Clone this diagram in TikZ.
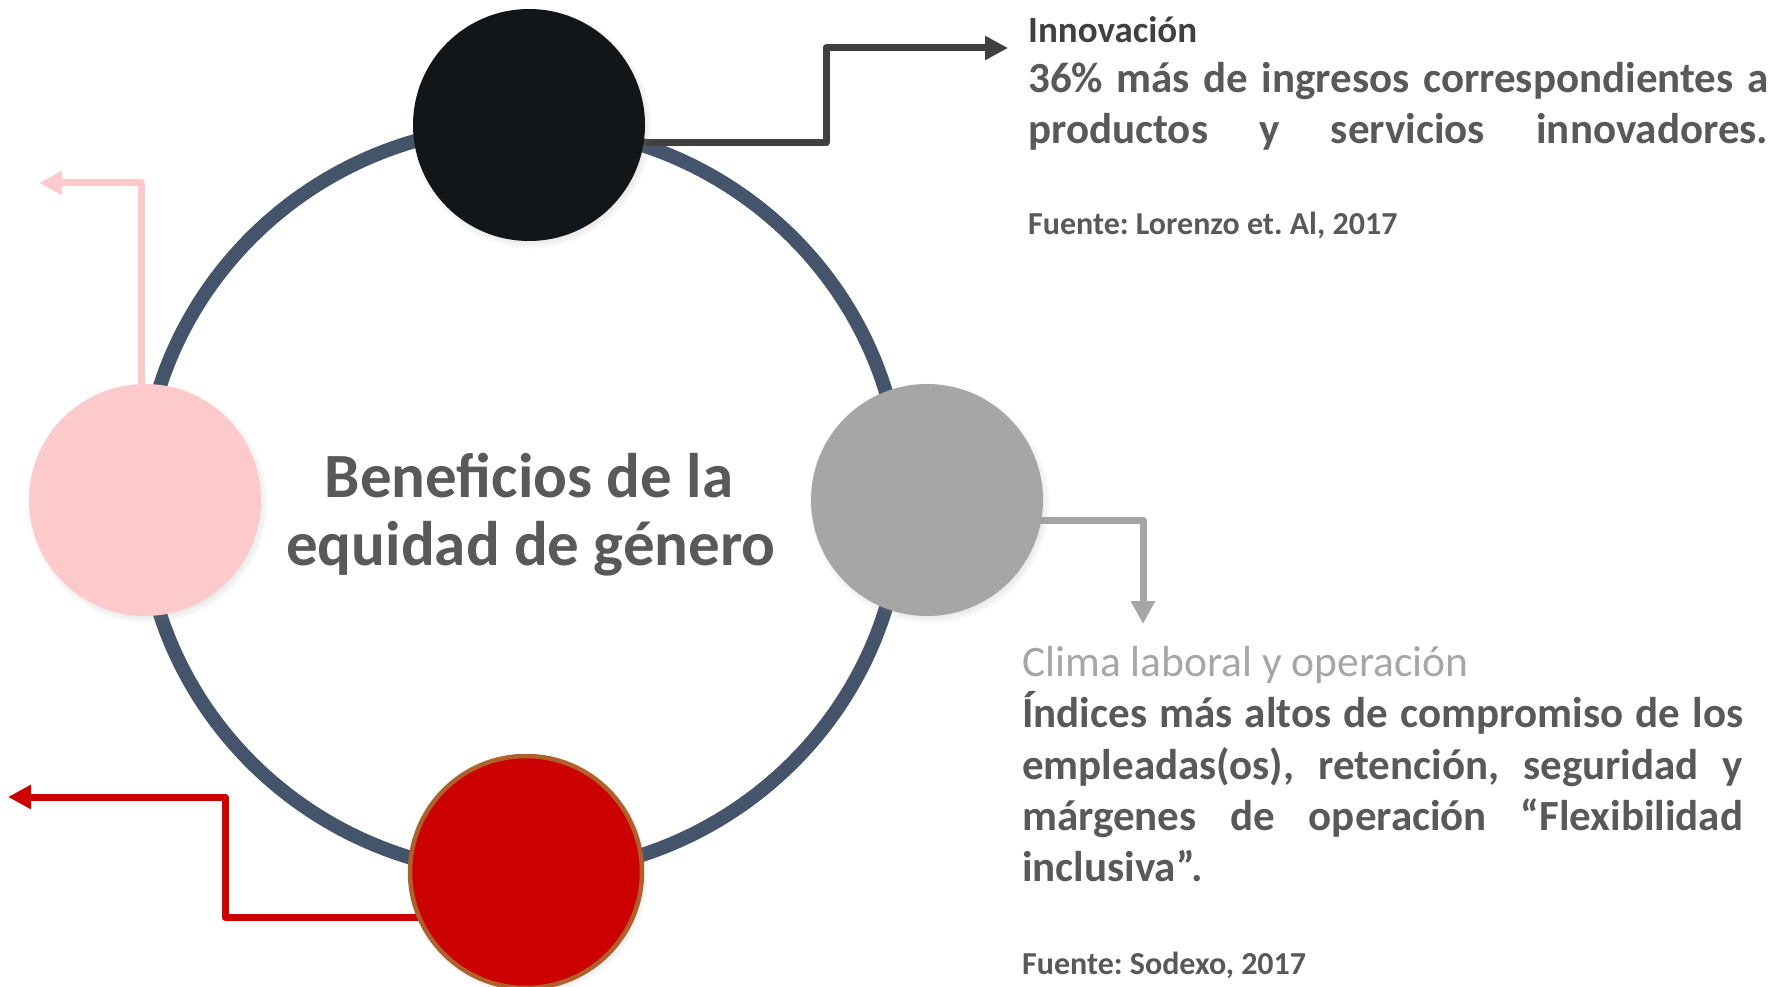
\documentclass[tikz,border=0pt]{standalone}
\usepackage{fontspec}
\setmainfont{Carlito}
\usetikzlibrary{arrows.meta,shadows,calc}
\definecolor{ringcol}{HTML}{44546A}
\definecolor{innc}{HTML}{131619}
\definecolor{climac}{HTML}{A6A6A6}
\definecolor{pinkc}{HTML}{FCCACA}
\definecolor{redc}{HTML}{CC0000}
\definecolor{redborder}{HTML}{B0602A}
\definecolor{darkt}{HTML}{404040}
\definecolor{bodyt}{HTML}{595959}
\pgfdeclarelayer{bg}
\pgfsetlayers{bg,main}
\frenchspacing
\tikzset{
 bubble/.style={circle, minimum size=232pt, inner sep=0pt,
   circular drop shadow={shadow xshift=2pt, shadow yshift=-3pt, shadow scale=1.04, opacity=0.35}},
 conn/.style={line width=7pt, line join=round, -{Triangle[length=23pt,width=23pt]}},
 body/.style={anchor=base west, inner sep=0pt, text=bodyt, font=\bfseries\fontsize{43}{50}\selectfont},
 src/.style={anchor=base west, inner sep=0pt, text=bodyt, font=\bfseries\fontsize{32}{36}\selectfont},
 title/.style={anchor=base, inner sep=0pt, text=bodyt, font=\bfseries\fontsize{63}{68}\selectfont},
}
\begin{document}
\begin{tikzpicture}[x=1pt,y=-1pt]
\useasboundingbox (0,0) rectangle (1775,987);
% circles
\node[bubble, fill=innc] (inn) at (529,125) {};
\node[bubble, fill=climac] (clima) at (927,500) {};
\node[bubble, fill=pinkc] (pink) at (145,500) {};
\node[bubble, fill=redc, draw=redborder, line width=4.5pt] (red) at (526,872) {};
% helper coordinates
\coordinate (ringO) at (522,500);
\coordinate (innBend) at (826,48);
\coordinate (innTip) at (1008,48);
\coordinate (climaTip) at (1143,624);
\coordinate (pinkTip) at (39,183);
\coordinate (redBend) at (225,797);
\coordinate (redTip) at (8,797);
\begin{pgfonlayer}{bg}
\fill[white] (0,0) rectangle (1775,987);
\draw[ringcol, line width=14pt] (ringO) ellipse [x radius=380pt, y radius=374pt];
\draw[conn, darkt] (inn.center) ++(0,18) -| (innBend) -- (innTip);
\draw[conn, climac] (clima.center) ++(0,20) -| (climaTip);
\draw[conn, pinkc] (pink.center) ++(-4,0) |- (pinkTip);
\draw[conn, redc] (red.center) ++(0,45) -| (redBend) -- (redTip);
\end{pgfonlayer}
% center title
\node[title] (t1) at (529,497) {Beneficios de la};
\node[title] (t2) at (531,565) {equidad de género};
% innovation text
\node[anchor=base west, inner sep=0pt, text=darkt, font=\bfseries\fontsize{37}{42}\selectfont] (innH) at (1028,43) {Innovación};
\node[body] (innL1) at (1028,93) {\makebox[740pt][s]{36\% más de ingresos correspondientes a}};
\node[body] (innL2) at (1028,144) {\makebox[740pt][s]{productos y servicios innovadores.}};
\node[src] (innS) at (1028,235) {Fuente: Lorenzo et. Al, 2017};
% clima text
\node[anchor=base west, inner sep=0pt, text=climac, font=\fontsize{43.5}{48}\selectfont] (climaH) at (1022,676) {Clima laboral y operación};
\node[body] (climaL1) at (1022,727) {\makebox[721pt][s]{Índices más altos de compromiso de los}};
\node[body] (climaL2) at (1022,779) {\makebox[721pt][s]{empleadas(os), retención, seguridad y}};
\node[body] (climaL3) at (1022,830) {\makebox[721pt][s]{márgenes de operación “Flexibilidad}};
\node[body] (climaL4) at (1022,881) {inclusiva”.};
\node[src] (climaS) at (1022,974) {Fuente: Sodexo, 2017};
\end{tikzpicture}
\end{document}
